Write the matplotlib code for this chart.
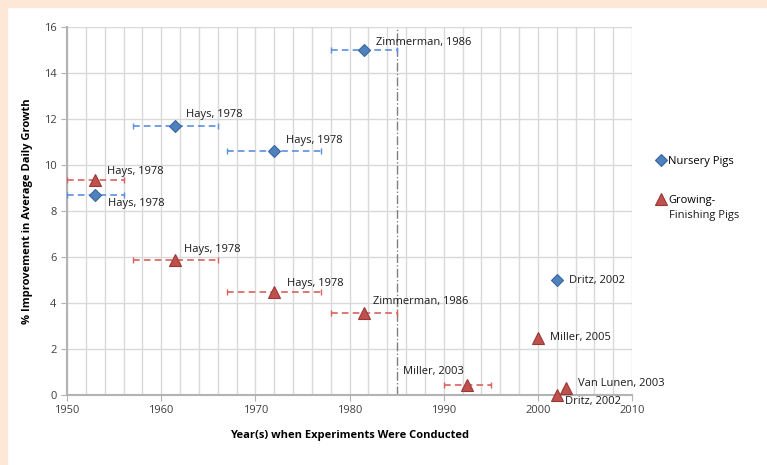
import matplotlib.pyplot as plt
import matplotlib.patches as mpatches
from matplotlib.ticker import MultipleLocator

plt.rcParams['font.family'] = ['Open Sans', 'DejaVu Sans']

# nursery pigs (blue diamonds)
nur_year = [1953, 1961.5, 1972, 1981.5, 2002]
nur_imp = [8.7, 11.7, 10.6, 15.0, 5.0]
nur_err = [3, 4.5, 5, 3.5, 0]
nur_lab = ['Hays, 1978', 'Hays, 1978', 'Hays, 1978', 'Zimmerman, 1986', 'Dritz, 2002']
nur_off = [(13, -9), (11, 11), (12, 11), (12, 8), (12, 0)]

# growing-finishing pigs (red triangles)
gf_year = [1953, 1961.5, 1972, 1981.5, 1992.5, 2000, 2002, 2003]
gf_imp = [9.35, 5.85, 4.5, 3.55, 0.45, 2.5, 0.0, 0.3]
gf_err = [3, 4.5, 5, 3.5, 2.5, 0, 0, 0]
gf_lab = ['Hays, 1978', 'Hays, 1978', 'Hays, 1978', 'Zimmerman, 1986', 'Miller, 2003',
          'Miller, 2005', 'Dritz, 2002', 'Van Lunen, 2003']
gf_off = [(12, 8), (9, 11), (13, 8), (9, 12), (-3, 13), (12, 0), (8, -6), (12, 5)]

cutoff = 1985

fig = plt.figure(figsize=(7.67, 4.65), dpi=100, facecolor='white')
# peach frame strips
fig.patches.append(mpatches.Rectangle((0, 1 - 7 / 465), 1, 7 / 465, transform=fig.transFigure,
                                      color='#fde8d7', zorder=0))
fig.patches.append(mpatches.Rectangle((0, 0), 7 / 767, 1, transform=fig.transFigure,
                                      color='#fde8d7', zorder=0))

ax = fig.add_axes([67 / 767, 70 / 465, 565 / 767, 368 / 465])

bx = [(y, v, e) for y, v, e in zip(nur_year, nur_imp, nur_err) if e > 0]
eb = ax.errorbar([b[0] for b in bx], [b[1] for b in bx], xerr=[b[2] for b in bx], fmt='none',
                 ecolor='#5b8fe0', elinewidth=1.2, capsize=2.5, capthick=1, zorder=3)
eb[2][0].set_linestyle((0, (4, 2.5)))
rx = [(y, v, e) for y, v, e in zip(gf_year, gf_imp, gf_err) if e > 0]
eb = ax.errorbar([b[0] for b in rx], [b[1] for b in rx], xerr=[b[2] for b in rx], fmt='none',
                 ecolor='#d9625e', elinewidth=1.2, capsize=2.5, capthick=1, zorder=3)
eb[2][0].set_linestyle((0, (4, 2.5)))

ax.plot(nur_year, nur_imp, 'D', color='#4f81bd', mec='#3a66a0', mew=0.8, ms=6.5,
        label='Nursery Pigs', zorder=5, clip_on=False)
ax.plot(gf_year, gf_imp, '^', color='#c0504d', mec='#983835', mew=0.8, ms=8,
        label='Growing-', zorder=5, clip_on=False)

for x, y, t, o in zip(nur_year, nur_imp, nur_lab, nur_off):
    ax.annotate(t, (x, y), xytext=o, textcoords='offset pixels', fontsize=8,
                color='#1a1a1a', va='center', ha='left' if o[0] > 0 else 'right')
for x, y, t, o in zip(gf_year, gf_imp, gf_lab, gf_off):
    ax.annotate(t, (x, y), xytext=o, textcoords='offset pixels', fontsize=8,
                color='#1a1a1a', va='center', ha='left' if o[0] > 0 else 'right')

ax.axvline(cutoff, color='#808080', lw=1, linestyle='-.', zorder=2)

ax.set_xlim(1950, 2010)
ax.set_ylim(0, 16)
ax.xaxis.set_major_locator(MultipleLocator(10))
ax.xaxis.set_minor_locator(MultipleLocator(2))
ax.yaxis.set_major_locator(MultipleLocator(2))
ax.grid(which='both', color='#d9d9d9', lw=1)
ax.set_axisbelow(True)
for s in ['top', 'right']:
    ax.spines[s].set_visible(False)
for s in ['left', 'bottom']:
    ax.spines[s].set_color('#b3b3b3')
    ax.spines[s].set_linewidth(1.5)
ax.tick_params(which='major', direction='out', length=4, color='#b3b3b3', labelsize=8,
               labelcolor='#404040')
ax.tick_params(which='minor', length=0)

ax.set_xlabel('Year(s) when Experiments Were Conducted', fontsize=8, fontweight='bold', labelpad=10)
ax.set_ylabel('% Improvement in Average Daily Growth', fontsize=8, fontweight='bold', labelpad=8)

ax.legend(loc='upper left', bbox_to_anchor=(657 / 767, 1 - 156 / 465), bbox_transform=fig.transFigure,
          frameon=False, fontsize=8, handlelength=0.8, handletextpad=0.2, labelspacing=2.5,
          borderpad=0, borderaxespad=0)
fig.text(669 / 767, 1 - 215 / 465, 'Finishing Pigs', fontsize=8, color='#1a1a1a', va='center')

fig.savefig('out.png', dpi=100)
